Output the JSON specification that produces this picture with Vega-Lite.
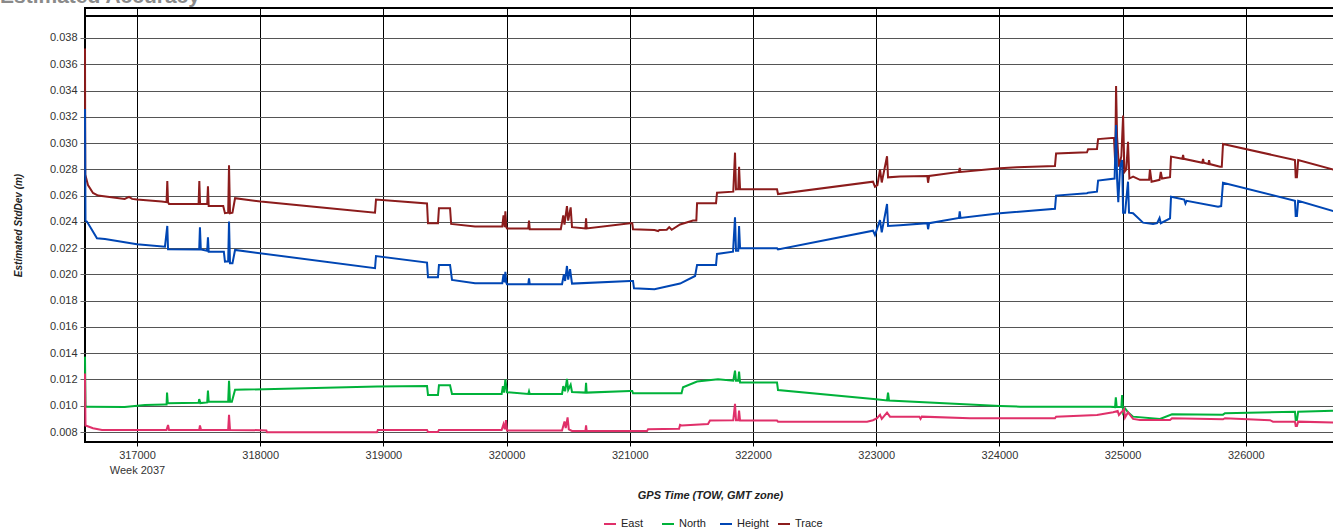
{
  "$schema": "https://vega.github.io/schema/vega-lite/v6.json",
  "autosize": "none",
  "width": 1250,
  "height": 434,
  "padding": {"left": 85, "top": 8, "right": 0, "bottom": 90},
  "background": "#ffffff",
  "title": {"text": "Estimated Accuracy", "anchor": "start", "frame": "group", "dx": -85, "dy": 16, "offset": 0, "baseline": "alphabetic", "fontSize": 21, "font": "Liberation Sans", "fontWeight": "bold", "color": "#8a8a8a"},
  "config": {
    "font": "Liberation Sans",
    "view": {"stroke": "#000000", "strokeWidth": 2},
    "axis": {"labelFont": "Liberation Sans", "labelFontSize": 11, "labelColor": "#333333", "titleFont": "Liberation Sans", "titleColor": "#222222"}
  },
  "data": {"values": [
    {"s":"Trace","x":316578,"y":0.0372},{"s":"Trace","x":316580,"y":0.0276},{"s":"Trace","x":316602,"y":0.0268},{"s":"Trace","x":316643,"y":0.0262},{"s":"Trace","x":316684,"y":0.026},{"s":"Trace","x":316900,"y":0.02575},{"s":"Trace","x":316935,"y":0.0259},{"s":"Trace","x":316960,"y":0.02575},{"s":"Trace","x":317000,"y":0.0257},{"s":"Trace","x":317200,"y":0.02555},{"s":"Trace","x":317240,"y":0.0255},{"s":"Trace","x":317246,"y":0.0271},{"s":"Trace","x":317252,"y":0.0255},{"s":"Trace","x":317260,"y":0.02536},{"s":"Trace","x":317500,"y":0.02536},{"s":"Trace","x":317506,"y":0.0271},{"s":"Trace","x":317512,"y":0.02536},{"s":"Trace","x":317570,"y":0.02536},{"s":"Trace","x":317576,"y":0.0267},{"s":"Trace","x":317582,"y":0.0252},{"s":"Trace","x":317700,"y":0.0252},{"s":"Trace","x":317714,"y":0.02466},{"s":"Trace","x":317740,"y":0.0247},{"s":"Trace","x":317747,"y":0.0283},{"s":"Trace","x":317755,"y":0.02466},{"s":"Trace","x":317775,"y":0.0247},{"s":"Trace","x":317796,"y":0.0258},{"s":"Trace","x":318004,"y":0.02555},{"s":"Trace","x":318500,"y":0.0251},{"s":"Trace","x":318932,"y":0.0247},{"s":"Trace","x":318940,"y":0.0257},{"s":"Trace","x":319354,"y":0.0254},{"s":"Trace","x":319362,"y":0.0239},{"s":"Trace","x":319443,"y":0.0239},{"s":"Trace","x":319451,"y":0.02504},{"s":"Trace","x":319541,"y":0.02504},{"s":"Trace","x":319550,"y":0.02384},{"s":"Trace","x":319744,"y":0.02364},{"s":"Trace","x":319965,"y":0.02364},{"s":"Trace","x":319975,"y":0.0245},{"s":"Trace","x":319985,"y":0.0236},{"s":"Trace","x":319990,"y":0.0248},{"s":"Trace","x":319998,"y":0.02359},{"s":"Trace","x":320003,"y":0.0235},{"s":"Trace","x":320176,"y":0.0235},{"s":"Trace","x":320182,"y":0.0241},{"s":"Trace","x":320188,"y":0.02344},{"s":"Trace","x":320440,"y":0.02344},{"s":"Trace","x":320460,"y":0.0245},{"s":"Trace","x":320470,"y":0.0238},{"s":"Trace","x":320490,"y":0.0252},{"s":"Trace","x":320500,"y":0.0241},{"s":"Trace","x":320520,"y":0.0251},{"s":"Trace","x":320531,"y":0.0236},{"s":"Trace","x":320640,"y":0.0235},{"s":"Trace","x":320645,"y":0.02427},{"s":"Trace","x":320650,"y":0.0235},{"s":"Trace","x":321002,"y":0.0239},{"s":"Trace","x":321020,"y":0.0239},{"s":"Trace","x":321026,"y":0.02344},{"s":"Trace","x":321200,"y":0.02338},{"s":"Trace","x":321230,"y":0.0233},{"s":"Trace","x":321240,"y":0.02338},{"s":"Trace","x":321300,"y":0.0234},{"s":"Trace","x":321320,"y":0.0236},{"s":"Trace","x":321340,"y":0.0234},{"s":"Trace","x":321408,"y":0.0238},{"s":"Trace","x":321513,"y":0.0241},{"s":"Trace","x":321540,"y":0.0241},{"s":"Trace","x":321546,"y":0.02542},{"s":"Trace","x":321700,"y":0.02542},{"s":"Trace","x":321708,"y":0.02622},{"s":"Trace","x":321840,"y":0.0263},{"s":"Trace","x":321854,"y":0.02927},{"s":"Trace","x":321862,"y":0.02648},{"s":"Trace","x":321880,"y":0.0265},{"s":"Trace","x":321887,"y":0.0282},{"s":"Trace","x":321895,"y":0.02648},{"s":"Trace","x":322195,"y":0.02648},{"s":"Trace","x":322203,"y":0.02612},{"s":"Trace","x":322974,"y":0.02706},{"s":"Trace","x":322990,"y":0.02668},{"s":"Trace","x":323010,"y":0.0268},{"s":"Trace","x":323031,"y":0.028},{"s":"Trace","x":323045,"y":0.027},{"s":"Trace","x":323088,"y":0.029},{"s":"Trace","x":323096,"y":0.02739},{"s":"Trace","x":323193,"y":0.02745},{"s":"Trace","x":323415,"y":0.0275},{"s":"Trace","x":323421,"y":0.02698},{"s":"Trace","x":323430,"y":0.0275},{"s":"Trace","x":323672,"y":0.0278},{"s":"Trace","x":323678,"y":0.0281},{"s":"Trace","x":323684,"y":0.0278},{"s":"Trace","x":324005,"y":0.02808},{"s":"Trace","x":324143,"y":0.02815},{"s":"Trace","x":324451,"y":0.02826},{"s":"Trace","x":324460,"y":0.0292},{"s":"Trace","x":324711,"y":0.0293},{"s":"Trace","x":324720,"y":0.02953},{"s":"Trace","x":324792,"y":0.02955},{"s":"Trace","x":324801,"y":0.0303},{"s":"Trace","x":324930,"y":0.0304},{"s":"Trace","x":324940,"y":0.0285},{"s":"Trace","x":324947,"y":0.03435},{"s":"Trace","x":324955,"y":0.0305},{"s":"Trace","x":324970,"y":0.0282},{"s":"Trace","x":324990,"y":0.029},{"s":"Trace","x":325004,"y":0.0321},{"s":"Trace","x":325015,"y":0.0278},{"s":"Trace","x":325030,"y":0.028},{"s":"Trace","x":325044,"y":0.0301},{"s":"Trace","x":325055,"y":0.0273},{"s":"Trace","x":325085,"y":0.02744},{"s":"Trace","x":325141,"y":0.0272},{"s":"Trace","x":325215,"y":0.0272},{"s":"Trace","x":325222,"y":0.028},{"s":"Trace","x":325235,"y":0.02706},{"s":"Trace","x":325300,"y":0.0272},{"s":"Trace","x":325310,"y":0.0278},{"s":"Trace","x":325320,"y":0.0273},{"s":"Trace","x":325385,"y":0.0274},{"s":"Trace","x":325393,"y":0.02897},{"s":"Trace","x":325485,"y":0.0288},{"s":"Trace","x":325491,"y":0.0291},{"s":"Trace","x":325497,"y":0.0288},{"s":"Trace","x":325647,"y":0.0285},{"s":"Trace","x":325653,"y":0.0288},{"s":"Trace","x":325659,"y":0.0285},{"s":"Trace","x":325696,"y":0.0284},{"s":"Trace","x":325702,"y":0.0287},{"s":"Trace","x":325708,"y":0.0284},{"s":"Trace","x":325791,"y":0.0282},{"s":"Trace","x":325805,"y":0.0282},{"s":"Trace","x":325815,"y":0.02993},{"s":"Trace","x":326399,"y":0.02871},{"s":"Trace","x":326405,"y":0.0274},{"s":"Trace","x":326415,"y":0.0274},{"s":"Trace","x":326425,"y":0.0287},{"s":"Trace","x":326724,"y":0.02795},

    {"s":"Height","x":316578,"y":0.0326},{"s":"Height","x":316582,"y":0.0241},{"s":"Height","x":316594,"y":0.02402},{"s":"Height","x":316635,"y":0.02338},{"s":"Height","x":316675,"y":0.02275},{"s":"Height","x":316740,"y":0.0227},{"s":"Height","x":317000,"y":0.02229},{"s":"Height","x":317227,"y":0.02211},{"s":"Height","x":317246,"y":0.02369},{"s":"Height","x":317252,"y":0.02191},{"s":"Height","x":317505,"y":0.0219},{"s":"Height","x":317511,"y":0.02359},{"s":"Height","x":317518,"y":0.0219},{"s":"Height","x":317570,"y":0.0218},{"s":"Height","x":317576,"y":0.02283},{"s":"Height","x":317582,"y":0.02173},{"s":"Height","x":317705,"y":0.02173},{"s":"Height","x":317714,"y":0.02097},{"s":"Height","x":317740,"y":0.021},{"s":"Height","x":317747,"y":0.02402},{"s":"Height","x":317755,"y":0.02085},{"s":"Height","x":317775,"y":0.02085},{"s":"Height","x":317796,"y":0.02186},{"s":"Height","x":318932,"y":0.02047},{"s":"Height","x":318940,"y":0.0214},{"s":"Height","x":319354,"y":0.0209},{"s":"Height","x":319362,"y":0.01978},{"s":"Height","x":319443,"y":0.01978},{"s":"Height","x":319451,"y":0.02072},{"s":"Height","x":319541,"y":0.02072},{"s":"Height","x":319557,"y":0.01958},{"s":"Height","x":319744,"y":0.01933},{"s":"Height","x":319965,"y":0.01933},{"s":"Height","x":319975,"y":0.02},{"s":"Height","x":319985,"y":0.0194},{"s":"Height","x":319990,"y":0.0202},{"s":"Height","x":319998,"y":0.01937},{"s":"Height","x":320003,"y":0.01925},{"s":"Height","x":320176,"y":0.01925},{"s":"Height","x":320182,"y":0.0197},{"s":"Height","x":320188,"y":0.01925},{"s":"Height","x":320450,"y":0.01925},{"s":"Height","x":320465,"y":0.02},{"s":"Height","x":320475,"y":0.0195},{"s":"Height","x":320490,"y":0.02064},{"s":"Height","x":320500,"y":0.0196},{"s":"Height","x":320515,"y":0.0204},{"s":"Height","x":320531,"y":0.0193},{"s":"Height","x":321002,"y":0.0195},{"s":"Height","x":321026,"y":0.0195},{"s":"Height","x":321034,"y":0.01894},{"s":"Height","x":321200,"y":0.01887},{"s":"Height","x":321408,"y":0.0193},{"s":"Height","x":321530,"y":0.01988},{"s":"Height","x":321546,"y":0.02072},{"s":"Height","x":321700,"y":0.02072},{"s":"Height","x":321708,"y":0.02156},{"s":"Height","x":321838,"y":0.02173},{"s":"Height","x":321854,"y":0.02435},{"s":"Height","x":321862,"y":0.0218},{"s":"Height","x":321880,"y":0.0218},{"s":"Height","x":321887,"y":0.02369},{"s":"Height","x":321895,"y":0.02199},{"s":"Height","x":322195,"y":0.02199},{"s":"Height","x":322203,"y":0.0219},{"s":"Height","x":322974,"y":0.02333},{"s":"Height","x":322990,"y":0.023},{"s":"Height","x":323031,"y":0.02414},{"s":"Height","x":323045,"y":0.0232},{"s":"Height","x":323088,"y":0.02536},{"s":"Height","x":323096,"y":0.02369},{"s":"Height","x":323193,"y":0.02375},{"s":"Height","x":323415,"y":0.0239},{"s":"Height","x":323421,"y":0.02344},{"s":"Height","x":323430,"y":0.0239},{"s":"Height","x":323672,"y":0.0243},{"s":"Height","x":323678,"y":0.0248},{"s":"Height","x":323684,"y":0.0243},{"s":"Height","x":324005,"y":0.02466},{"s":"Height","x":324451,"y":0.025},{"s":"Height","x":324460,"y":0.026},{"s":"Height","x":324711,"y":0.02618},{"s":"Height","x":324720,"y":0.02622},{"s":"Height","x":324792,"y":0.0263},{"s":"Height","x":324801,"y":0.02714},{"s":"Height","x":324935,"y":0.0273},{"s":"Height","x":324947,"y":0.03138},{"s":"Height","x":324955,"y":0.0273},{"s":"Height","x":324965,"y":0.0255},{"s":"Height","x":324980,"y":0.0282},{"s":"Height","x":324996,"y":0.0287},{"s":"Height","x":325004,"y":0.0247},{"s":"Height","x":325020,"y":0.0247},{"s":"Height","x":325044,"y":0.02706},{"s":"Height","x":325052,"y":0.0247},{"s":"Height","x":325085,"y":0.02466},{"s":"Height","x":325166,"y":0.02394},{"s":"Height","x":325247,"y":0.02384},{"s":"Height","x":325280,"y":0.0239},{"s":"Height","x":325300,"y":0.0243},{"s":"Height","x":325310,"y":0.0239},{"s":"Height","x":325385,"y":0.02427},{"s":"Height","x":325393,"y":0.02592},{"s":"Height","x":325500,"y":0.0257},{"s":"Height","x":325510,"y":0.0254},{"s":"Height","x":325520,"y":0.0256},{"s":"Height","x":325775,"y":0.02516},{"s":"Height","x":325800,"y":0.0252},{"s":"Height","x":325815,"y":0.02698},{"s":"Height","x":326399,"y":0.02561},{"s":"Height","x":326405,"y":0.02445},{"s":"Height","x":326415,"y":0.02445},{"s":"Height","x":326425,"y":0.0256},{"s":"Height","x":326724,"y":0.02478},

    {"s":"North","x":316578,"y":0.01374},{"s":"North","x":316582,"y":0.0099},{"s":"North","x":316594,"y":0.00993},{"s":"North","x":316900,"y":0.0099},{"s":"North","x":317065,"y":0.01006},{"s":"North","x":317227,"y":0.0101},{"s":"North","x":317240,"y":0.0101},{"s":"North","x":317244,"y":0.011},{"s":"North","x":317250,"y":0.01019},{"s":"North","x":317500,"y":0.01022},{"s":"North","x":317505,"y":0.0105},{"s":"North","x":317515,"y":0.0102},{"s":"North","x":317570,"y":0.01025},{"s":"North","x":317576,"y":0.01115},{"s":"North","x":317582,"y":0.01031},{"s":"North","x":317740,"y":0.01031},{"s":"North","x":317747,"y":0.01189},{"s":"North","x":317755,"y":0.0103},{"s":"North","x":317770,"y":0.0103},{"s":"North","x":317796,"y":0.01121},{"s":"North","x":318948,"y":0.01146},{"s":"North","x":319354,"y":0.01151},{"s":"North","x":319362,"y":0.01082},{"s":"North","x":319443,"y":0.01082},{"s":"North","x":319451,"y":0.01156},{"s":"North","x":319541,"y":0.01156},{"s":"North","x":319557,"y":0.0109},{"s":"North","x":319960,"y":0.0109},{"s":"North","x":319970,"y":0.0115},{"s":"North","x":319980,"y":0.011},{"s":"North","x":319990,"y":0.012},{"s":"North","x":320003,"y":0.01103},{"s":"North","x":320176,"y":0.0109},{"s":"North","x":320182,"y":0.0111},{"s":"North","x":320188,"y":0.0109},{"s":"North","x":320450,"y":0.0109},{"s":"North","x":320460,"y":0.0115},{"s":"North","x":320475,"y":0.0111},{"s":"North","x":320490,"y":0.01204},{"s":"North","x":320500,"y":0.0112},{"s":"North","x":320520,"y":0.0116},{"s":"North","x":320531,"y":0.01105},{"s":"North","x":320640,"y":0.011},{"s":"North","x":320645,"y":0.01174},{"s":"North","x":320650,"y":0.011},{"s":"North","x":321002,"y":0.01113},{"s":"North","x":321020,"y":0.01113},{"s":"North","x":321026,"y":0.01095},{"s":"North","x":321420,"y":0.01095},{"s":"North","x":321432,"y":0.01141},{"s":"North","x":321546,"y":0.01184},{"s":"North","x":321716,"y":0.01202},{"s":"North","x":321840,"y":0.0119},{"s":"North","x":321854,"y":0.01267},{"s":"North","x":321862,"y":0.0119},{"s":"North","x":321880,"y":0.0119},{"s":"North","x":321887,"y":0.0126},{"s":"North","x":321895,"y":0.01176},{"s":"North","x":322195,"y":0.01176},{"s":"North","x":322203,"y":0.0112},{"s":"North","x":322999,"y":0.01049},{"s":"North","x":323088,"y":0.0104},{"s":"North","x":323096,"y":0.011},{"s":"North","x":323104,"y":0.0104},{"s":"North","x":324005,"y":0.00998},{"s":"North","x":324167,"y":0.00993},{"s":"North","x":324900,"y":0.00993},{"s":"North","x":324939,"y":0.0099},{"s":"North","x":324945,"y":0.01064},{"s":"North","x":324952,"y":0.0099},{"s":"North","x":324990,"y":0.0099},{"s":"North","x":324996,"y":0.01082},{"s":"North","x":325004,"y":0.0095},{"s":"North","x":325020,"y":0.0098},{"s":"North","x":325044,"y":0.0095},{"s":"North","x":325085,"y":0.00917},{"s":"North","x":325304,"y":0.009},{"s":"North","x":325401,"y":0.00935},{"s":"North","x":325815,"y":0.00932},{"s":"North","x":325831,"y":0.00943},{"s":"North","x":326399,"y":0.00955},{"s":"North","x":326405,"y":0.00891},{"s":"North","x":326415,"y":0.00891},{"s":"North","x":326425,"y":0.00955},{"s":"North","x":326724,"y":0.00963},

    {"s":"East","x":316578,"y":0.01245},{"s":"East","x":316582,"y":0.0085},{"s":"East","x":316594,"y":0.00846},{"s":"East","x":316643,"y":0.00829},{"s":"East","x":316716,"y":0.00816},{"s":"East","x":317240,"y":0.00816},{"s":"East","x":317252,"y":0.00854},{"s":"East","x":317260,"y":0.00816},{"s":"East","x":317505,"y":0.00816},{"s":"East","x":317511,"y":0.0085},{"s":"East","x":317520,"y":0.00816},{"s":"East","x":317740,"y":0.00816},{"s":"East","x":317747,"y":0.0093},{"s":"East","x":317755,"y":0.00816},{"s":"East","x":318004,"y":0.00814},{"s":"East","x":318050,"y":0.00812},{"s":"East","x":318055,"y":0.00798},{"s":"East","x":318948,"y":0.00798},{"s":"East","x":318955,"y":0.00816},{"s":"East","x":319354,"y":0.00816},{"s":"East","x":319362,"y":0.008},{"s":"East","x":319443,"y":0.008},{"s":"East","x":319451,"y":0.00816},{"s":"East","x":319960,"y":0.00816},{"s":"East","x":319975,"y":0.0086},{"s":"East","x":319985,"y":0.0082},{"s":"East","x":319995,"y":0.00891},{"s":"East","x":320003,"y":0.00812},{"s":"East","x":320450,"y":0.00811},{"s":"East","x":320470,"y":0.0088},{"s":"East","x":320480,"y":0.0083},{"s":"East","x":320495,"y":0.00911},{"s":"East","x":320505,"y":0.0082},{"s":"East","x":320531,"y":0.00808},{"s":"East","x":320640,"y":0.00808},{"s":"East","x":320645,"y":0.0085},{"s":"East","x":320650,"y":0.00808},{"s":"East","x":321140,"y":0.00808},{"s":"East","x":321148,"y":0.00821},{"s":"East","x":321400,"y":0.00825},{"s":"East","x":321408,"y":0.00854},{"s":"East","x":321420,"y":0.0085},{"s":"East","x":321635,"y":0.00861},{"s":"East","x":321651,"y":0.00887},{"s":"East","x":321840,"y":0.0089},{"s":"East","x":321854,"y":0.01014},{"s":"East","x":321862,"y":0.0089},{"s":"East","x":321880,"y":0.0089},{"s":"East","x":321887,"y":0.00963},{"s":"East","x":321895,"y":0.00887},{"s":"East","x":322195,"y":0.00887},{"s":"East","x":322203,"y":0.00879},{"s":"East","x":322926,"y":0.00879},{"s":"East","x":322974,"y":0.0089},{"s":"East","x":323007,"y":0.00905},{"s":"East","x":323031,"y":0.0093},{"s":"East","x":323045,"y":0.009},{"s":"East","x":323088,"y":0.00947},{"s":"East","x":323112,"y":0.00917},{"s":"East","x":323350,"y":0.00917},{"s":"East","x":323360,"y":0.009},{"s":"East","x":323370,"y":0.00917},{"s":"East","x":323761,"y":0.00905},{"s":"East","x":324451,"y":0.00905},{"s":"East","x":324460,"y":0.00917},{"s":"East","x":324792,"y":0.0093},{"s":"East","x":324923,"y":0.0095},{"s":"East","x":324960,"y":0.0096},{"s":"East","x":324970,"y":0.0093},{"s":"East","x":325012,"y":0.00973},{"s":"East","x":325020,"y":0.0091},{"s":"East","x":325044,"y":0.0095},{"s":"East","x":325085,"y":0.009},{"s":"East","x":325141,"y":0.00892},{"s":"East","x":325385,"y":0.00892},{"s":"East","x":325401,"y":0.00905},{"s":"East","x":325815,"y":0.00897},{"s":"East","x":325831,"y":0.00905},{"s":"East","x":326196,"y":0.0089},{"s":"East","x":326221,"y":0.00879},{"s":"East","x":326399,"y":0.00879},{"s":"East","x":326405,"y":0.00846},{"s":"East","x":326415,"y":0.00846},{"s":"East","x":326425,"y":0.00879},{"s":"East","x":326724,"y":0.00871}
  ]},
  "layer": [
    {
      "mark": {"type": "line", "strokeWidth": 2, "interpolate": "linear"},
      "encoding": {
        "x": {"field": "x", "type": "quantitative",
          "scale": {"domain": [316578, 326724], "nice": false, "zero": false},
          "axis": {"values": [317000,318000,319000,320000,321000,322000,323000,324000,325000,326000], "format": "d", "tickCount": 20,
            "labelExpr": "datum.value == 317000 ? ['317000', 'Week 2037'] : datum.label",
            "labelLineHeight": 15, "labelPadding": 3, "tickSize": 4, "tickColor": "#000000",
            "grid": true, "gridColor": "#000000", "gridOpacity": 1, "gridWidth": 1, "domain": false,
            "title": "GPS Time (TOW, GMT zone)", "titleFontSize": 11, "titleFontWeight": "bold", "titleFontStyle": "italic", "titlePadding": 14}},
        "y": {"field": "y", "type": "quantitative",
          "scale": {"domain": [0.007239, 0.040284], "nice": false, "zero": false},
          "axis": {"values": [0.008,0.01,0.012,0.014,0.016,0.018,0.02,0.022,0.024,0.026,0.028,0.03,0.032,0.034,0.036,0.038], "format": ".3f", "tickCount": 30, "labelOverlap": false,
            "labelPadding": 3, "tickSize": 5, "tickColor": "#666666",
            "grid": true, "gridColor": "#555555", "gridOpacity": 1, "gridWidth": 1, "domain": false,
            "title": "Estimated StdDev (m)", "titleFontSize": 10, "titleFontWeight": "bold", "titleFontStyle": "italic", "titlePadding": 26}},
        "color": {"field": "s", "type": "nominal",
          "scale": {"domain": ["East", "North", "Height", "Trace"], "range": ["#e0306a", "#00b23a", "#0046b4", "#8c1c1c"]},
          "legend": {"title": null, "orient": "none", "direction": "horizontal", "legendX": 518, "legendY": 509,
            "gridAlign": "all", "symbolType": "stroke", "symbolSize": 144, "symbolStrokeWidth": 2, "labelFontSize": 11, "labelFont": "Liberation Sans", "labelColor": "#222222", "labelOffset": 4, "columnPadding": 5}}
      }
    },
    {
      "mark": {"type": "rule", "color": "#000000", "strokeWidth": 1.5},
      "encoding": {"y": {"datum": 0.03967}}
    }
  ]
}
